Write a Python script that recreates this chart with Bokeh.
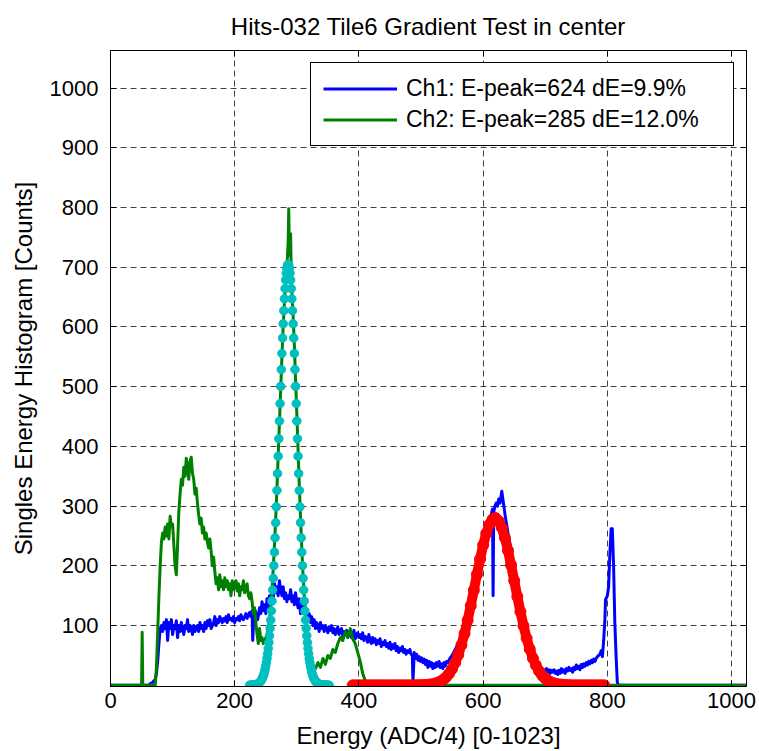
from bokeh.plotting import figure
from bokeh.models import Range1d, FixedTicker, LinearAxis, Legend, LegendItem
from bokeh.embed import file_html
from bokeh.resources import INLINE

TITLE = "Hits-032 Tile6 Gradient Test in center"
X_LABEL = "Energy (ADC/4) [0-1023]"
Y_LABEL = "Singles Energy Histogram [Counts]"
LEGEND_CH1 = "Ch1: E-peak=624 dE=9.9%"
LEGEND_CH2 = "Ch2: E-peak=285 dE=12.0%"
X_TICKS = [0, 200, 400, 600, 800, 1000]
Y_TICKS = [100, 200, 300, 400, 500, 600, 700, 800, 900, 1000]

# Ch1 histogram (energy bin, counts)
ch1_points = [
    (0, 0), (62, 0), (64, 3), (68, 5), (72, 10), (74, 20), (76, 40), (78, 70), (80, 95), (82, 100),
    (84, 90), (86, 105), (88, 95), (90, 110), (92, 75), (94, 105), (96, 95), (98, 110), (100, 85),
    (102, 100), (104, 95), (106, 108), (108, 80), (110, 100), (112, 90), (114, 105), (116, 95),
    (118, 85), (120, 100), (122, 95), (124, 110), (126, 90), (128, 100), (130, 95), (132, 85),
    (134, 100), (136, 90), (138, 95), (140, 100), (142, 90), (144, 105), (146, 95), (148, 100),
    (150, 90), (152, 105), (154, 95), (156, 108), (158, 100), (160, 110), (162, 95), (164, 100),
    (166, 105), (168, 115), (170, 100), (172, 110), (174, 105), (176, 115), (178, 110), (180, 105),
    (182, 112), (184, 108), (186, 115), (188, 105), (190, 118), (192, 110), (194, 112), (196, 108),
    (198, 115), (200, 105), (202, 112), (204, 110), (206, 115), (208, 108), (210, 118), (212, 112),
    (214, 110), (216, 115), (218, 120), (220, 112), (222, 118), (224, 122), (226, 115), (228, 125),
    (229, 75), (231, 120), (233, 125), (235, 115), (237, 110), (240, 130), (242, 120), (244, 140),
    (246, 125), (248, 135), (250, 120), (252, 145), (254, 130), (256, 150), (258, 140), (260, 160),
    (262, 145), (264, 170), (266, 155), (268, 165), (270, 150), (272, 175), (274, 160), (276, 150),
    (278, 165), (280, 145), (282, 155), (284, 140), (286, 150), (288, 145), (290, 160), (292, 140),
    (294, 150), (296, 135), (298, 155), (300, 140), (302, 130), (304, 145), (306, 120), (308, 135),
    (310, 125), (312, 140), (314, 115), (316, 125), (318, 110), (320, 120), (322, 105), (324, 115),
    (326, 100), (328, 110), (330, 95), (332, 105), (334, 100), (336, 90), (338, 105), (340, 95),
    (342, 100), (344, 90), (346, 100), (348, 95), (350, 88), (352, 98), (354, 92), (356, 100),
    (358, 88), (360, 95), (362, 85), (364, 92), (366, 98), (368, 85), (370, 90), (372, 95),
    (374, 82), (376, 90), (378, 85), (380, 92), (382, 80), (384, 88), (386, 90), (388, 80),
    (390, 85), (392, 92), (394, 78), (396, 85), (398, 88), (400, 80), (402, 85), (404, 78),
    (406, 88), (408, 75), (410, 82), (412, 80), (414, 72), (416, 85), (418, 75), (420, 70),
    (422, 80), (424, 72), (426, 78), (428, 68), (430, 75), (432, 70), (434, 78), (436, 65),
    (438, 72), (440, 68), (442, 75), (444, 65), (446, 70), (448, 62), (450, 72), (452, 60),
    (454, 68), (456, 62), (458, 70), (460, 58), (462, 65), (464, 55), (466, 62), (468, 58),
    (470, 65), (472, 55), (474, 60), (476, 52), (478, 58), (480, 55), (482, 60), (484, 52),
    (486, 50), (487, 5), (489, 55), (491, 45), (493, 52), (495, 42), (497, 48), (499, 40),
    (501, 46), (503, 38), (505, 44), (507, 35), (509, 42), (511, 30), (513, 40), (515, 32),
    (517, 38), (519, 28), (521, 36), (523, 30), (525, 38), (527, 32), (529, 40), (531, 30),
    (533, 36), (535, 28), (537, 38), (539, 32), (541, 40), (543, 38), (545, 42), (547, 46),
    (550, 50), (553, 56), (555, 60), (558, 66), (560, 70), (563, 75), (565, 78), (568, 85),
    (570, 90), (573, 95), (575, 100), (578, 112), (580, 120), (583, 132), (585, 140), (588, 155),
    (590, 165), (593, 180), (595, 190), (598, 205), (600, 215), (603, 230), (605, 240), (608, 255),
    (610, 265), (613, 285), (615, 295), (616, 150), (617, 290), (619, 300), (621, 305), (623, 300),
    (625, 312), (627, 305), (629, 318), (630, 325), (632, 310), (634, 295), (636, 280), (638, 268),
    (640, 255), (643, 238), (645, 225), (648, 208), (650, 195), (653, 178), (655, 165), (658, 150),
    (660, 140), (663, 125), (665, 115), (668, 100), (670, 92), (673, 80), (675, 72), (678, 62),
    (680, 55), (683, 47), (685, 42), (688, 36), (690, 33), (692, 30), (694, 27), (696, 24),
    (698, 26), (700, 23), (702, 28), (704, 22),
    (706, 26), (708, 20), (710, 25), (712, 22), (714, 26), (716, 20), (718, 24), (720, 18),
    (722, 25), (724, 20), (726, 28), (728, 22), (730, 26), (732, 20), (734, 28), (736, 24),
    (738, 30), (740, 25), (742, 28), (744, 22), (746, 30), (748, 26), (750, 34), (752, 28),
    (754, 32), (756, 26), (758, 35), (760, 30), (762, 36), (764, 32), (766, 38), (768, 34),
    (770, 40), (772, 36), (774, 42), (776, 38), (778, 44), (780, 40), (782, 45), (784, 48),
    (786, 50), (788, 52), (790, 58), (792, 48), (794, 75), (796, 110), (797, 143), (800, 150),
    (802, 165), (804, 220), (806, 262), (808, 262), (810, 200), (812, 105), (814, 50), (816, 5),
    (818, 0), (1023, 0),
]

# Ch2 histogram (energy bin, counts)
ch2_points = [
    (0, 0), (50, 0), (51, 89), (52, 0), (72, 0), (74, 30), (76, 90), (78, 150), (80, 200),
    (82, 240), (84, 255), (86, 245), (88, 265), (90, 250), (92, 270), (94, 245), (96, 283),
    (98, 265), (100, 270), (102, 235), (104, 200), (106, 185), (108, 235), (110, 290), (112, 320),
    (114, 345), (116, 335), (118, 365), (120, 350), (122, 380), (124, 365), (126, 345), (128, 375),
    (130, 382), (132, 355), (134, 345), (136, 320), (138, 330), (140, 305), (142, 285), (144, 270),
    (146, 280), (148, 255), (150, 265), (152, 245), (154, 255), (156, 240), (158, 230), (160, 245),
    (162, 225), (164, 200), (166, 215), (168, 190), (170, 170), (172, 180), (174, 160), (176, 185),
    (178, 165), (180, 175), (182, 160), (184, 180), (186, 165), (188, 175), (190, 160), (192, 170),
    (194, 150), (196, 175), (198, 160), (200, 165), (202, 175), (204, 158), (206, 170), (208, 150),
    (210, 165), (212, 160), (214, 175), (216, 155), (218, 160), (220, 170), (222, 150), (224, 145),
    (226, 155), (228, 140), (230, 120), (232, 130), (234, 105), (236, 85), (238, 70), (240, 95),
    (242, 75), (244, 80), (246, 70), (248, 72), (250, 80), (252, 85), (254, 95), (256, 110),
    (258, 130), (260, 160), (262, 195), (264, 235), (266, 280), (268, 330), (270, 385), (272, 440),
    (274, 495), (276, 550), (278, 600), (280, 640), (282, 680), (284, 700), (286, 740), (287, 798),
    (288, 720), (290, 756), (291, 690), (292, 660), (294, 620), (296, 570), (298, 510), (300, 455),
    (302, 395), (304, 335), (306, 280), (308, 230), (310, 185), (312, 150), (314, 118), (316, 90),
    (318, 70), (320, 55), (322, 42), (324, 35), (326, 30), (330, 28), (334, 38), (338, 30),
    (342, 45), (346, 35), (350, 50), (354, 45), (358, 60), (362, 55), (366, 70), (370, 80),
    (374, 75), (378, 90), (382, 80), (386, 95), (390, 78), (394, 70), (398, 55), (402, 40),
    (406, 20), (410, 8), (414, 0), (1023, 0),
]

# Ch1 photopeak fit, sampled every 5 bins from 390 to 795
fit1_x = list(range(390, 800, 5))
fit1_y = [
    0, 0, 0, 0, 0, 0, 0, 0, 0, 0, 0, 0, 0, 0, 0, 0, 0, 0, 0, 0, 0, 0.2, 0.3, 0.5, 0.8, 1.4,
    2.3, 3.7, 5.9, 8.9, 13.3, 19.3, 27.4, 37.9, 51.2, 67.4, 86.7, 108.8, 133.2, 159.2, 185.7,
    211.3, 234.8, 254.4, 269.1, 277.8, 280, 275.1, 263.9, 247.1, 225.8, 201.3, 175.1, 148.7,
    123.2, 99.7, 78.6, 60.6, 45.5, 33.4, 23.9, 16.7, 11.4, 7.6, 4.9, 3.1, 1.9, 1.2, 0.7, 0.4,
    0.2, 0, 0, 0, 0, 0, 0, 0, 0, 0, 0, 0,
]

# Ch2 photopeak fit, one value per bin from 224 to 352
fit2_x = list(range(224, 353))
fit2_y = [
    0.1, 0.1, 0.1, 0.2, 0.2, 0.3, 0.4, 0.5, 0.7, 0.9, 1.1, 1.5, 1.9, 2.3, 2.9, 3.7, 4.6, 5.7,
    7.1, 8.7, 10.6, 12.9,
    15.7, 18.9, 22.7, 27.2, 32.3, 38.3, 45.1, 52.9, 61.8, 71.7, 82.9, 95.4, 109.3, 124.5, 141.2,
    159.5, 179.1, 200.4, 223, 247, 272.3, 298.8, 326.3, 354.5, 383.5, 412.8, 442.4, 471.7, 500.6,
    528.7, 555.7, 581.5, 605.4, 627.4, 647.1, 664.3, 678.7, 690, 698.3, 703.3,
    705,
    703.3, 698.3, 690, 678.7, 664.3, 647.1, 627.4, 605.4, 581.5, 555.7, 528.7, 500.6, 471.7,
    442.4, 412.8, 383.5, 354.5, 326.3, 298.8, 272.3, 247, 223, 200.4, 179.1, 159.5, 141.2, 124.5,
    109.3, 95.4, 82.9, 71.7, 61.8, 52.9, 45.1, 38.3, 32.3, 27.2, 22.7, 18.9, 15.7,
    12.9, 10.6, 8.7, 7.1, 5.7, 4.6, 3.7, 2.9, 2.3, 1.9, 1.5, 1.1, 0.9, 0.7, 0.5, 0.4, 0.3, 0.2,
    0.2, 0.1, 0.1, 0.1, 0.1, 0.0, 0.0, 0.0,
]

ch1_x = [a for a, b in ch1_points]
ch1_y = [b for a, b in ch1_points]
ch2_x = [a for a, b in ch2_points]
ch2_y = [b for a, b in ch2_points]
n1 = min(len(fit1_x), len(fit1_y))
n2 = min(len(fit2_x), len(fit2_y))

FONT = "Liberation Sans"

p = figure(width=759, height=751, output_backend="svg", toolbar_location=None,
           x_range=Range1d(0, 1024), y_range=Range1d(-2, 1063),
           min_border_left=110, min_border_right=13, min_border_top=50, min_border_bottom=65,
           title=TITLE)
p.background_fill_color = "white"
p.border_fill_color = "white"
p.outline_line_color = "black"
p.outline_line_width = 1

p.title.text_font = FONT
p.title.text_font_size = "24px"
p.title.text_font_style = "normal"
p.title.align = "center"
p.title.vertical_align = "top"
p.title.text_color = "black"
p.title.standoff = 18

for ax, ticks in ((p.xaxis[0], X_TICKS), (p.yaxis[0], Y_TICKS)):
    ax.ticker = FixedTicker(ticks=ticks)
    ax.major_tick_in = 6
    ax.major_tick_out = 0
    ax.minor_tick_line_color = None
    ax.axis_line_color = "black"
    ax.major_tick_line_color = "black"
    ax.major_label_text_font = FONT
    ax.major_label_text_font_size = "22px"
    ax.major_label_text_color = "black"
    ax.axis_label_text_font = FONT
    ax.axis_label_text_font_size = "24px"
    ax.axis_label_text_font_style = "normal"
    ax.axis_label_text_color = "black"

p.xaxis[0].axis_label = X_LABEL
p.yaxis[0].axis_label = Y_LABEL
p.xaxis[0].major_label_standoff = 6
p.xaxis[0].axis_label_standoff = 11
p.yaxis[0].major_label_standoff = 12
p.yaxis[0].axis_label_standoff = 10

for place, ticks in (("above", X_TICKS), ("right", Y_TICKS)):
    ax = LinearAxis(ticker=FixedTicker(ticks=ticks))
    ax.major_tick_in = 6
    ax.major_tick_out = 0
    ax.minor_tick_line_color = None
    ax.axis_line_color = "black"
    ax.major_tick_line_color = "black"
    ax.major_label_text_color = None
    ax.major_label_text_font_size = "1px"
    ax.major_label_standoff = 0
    p.add_layout(ax, place)

p.xgrid.ticker = FixedTicker(ticks=X_TICKS)
p.ygrid.ticker = FixedTicker(ticks=Y_TICKS)
for g in (p.xgrid[0], p.ygrid[0]):
    g.grid_line_color = "black"
    g.grid_line_alpha = 0.75
    g.grid_line_dash = "6 4"
    g.grid_line_width = 1

r1 = p.line(ch1_x, ch1_y, line_color="#0000FF", line_width=3, line_join="round")
r2 = p.line(ch2_x, ch2_y, line_color="#008000", line_width=3, line_join="round")
p.line(fit1_x[:n1], fit1_y[:n1], line_color="#FF0000", line_width=10, line_join="round", line_cap="round")
p.scatter(fit1_x[:n1], fit1_y[:n1], size=11, fill_color="#FF0000", line_color="#FF0000")
p.scatter(fit2_x[:n2], fit2_y[:n2], size=8.5, fill_color="#00BFBF", line_color="#00BFBF")

legend = Legend(items=[LegendItem(label=LEGEND_CH1, renderers=[r1]),
                       LegendItem(label=LEGEND_CH2, renderers=[r2])],
                location="top_right", label_text_font=FONT, label_text_font_size="23px",
                label_text_color="black",
                glyph_width=74, glyph_height=25, label_height=25, label_width=315,
                label_standoff=9, padding=12, spacing=4, margin=12,
                border_line_color="black", border_line_width=1, border_line_alpha=1,
                background_fill_color="white", background_fill_alpha=1)
p.add_layout(legend)

open("out.html", "w").write(file_html(p, INLINE))
